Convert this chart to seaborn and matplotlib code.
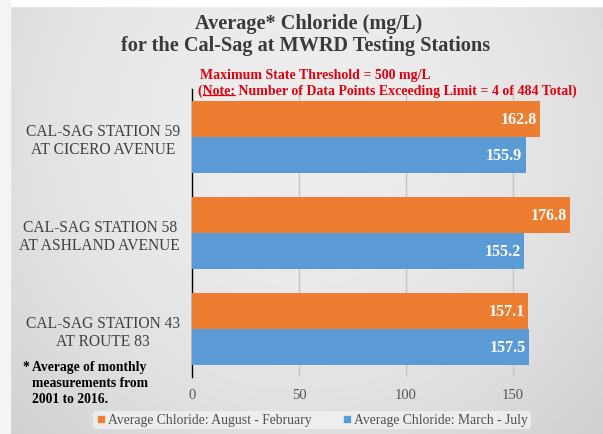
import numpy as np
import pandas as pd
import matplotlib
matplotlib.use("Agg")
import matplotlib.pyplot as plt
import seaborn as sns

# data
stations = ["CAL-SAG STATION 59\nAT CICERO AVENUE",
            "CAL-SAG STATION 58\nAT ASHLAND AVENUE",
            "CAL-SAG STATION 43\nAT ROUTE 83"]
series_names = ["Average Chloride: August - February",
                "Average Chloride: March - July"]
aug_feb = [162.8, 176.8, 157.1]
mar_jul = [155.9, 155.2, 157.5]
x_ticks = [0, 50, 100, 150]

df = pd.DataFrame({
    "station": stations * 2,
    "period": [series_names[0]] * 3 + [series_names[1]] * 3,
    "value": aug_feb + mar_jul,
})

sns.set_theme(style="white")
plt.rcParams["font.family"] = ["Liberation Serif", "DejaVu Serif"]

fig = plt.figure(figsize=(6.03, 4.35), dpi=100)

# gray slide background with soft gradient
bg = fig.add_axes([0, 0, 1, 1], zorder=-10)
xx = np.linspace(-1, 1, 300)
yy = np.linspace(-1, 1, 220)
X, Y = np.meshgrid(xx, yy)
shade = 0.93 - 0.06 * (X ** 2) - 0.03 * ((Y + 0.4) ** 2)
bg.imshow(shade, cmap="gray", vmin=0, vmax=1, aspect="auto",
          extent=[0, 1, 0, 1], interpolation="bilinear")
bg.axis("off")
fig.patches.append(plt.Rectangle((0, 0.985), 1, 0.015, transform=fig.transFigure,
                                 color="white", zorder=-5))
fig.patches.append(plt.Rectangle((0, 0), 0.016, 1, transform=fig.transFigure,
                                 color="#f4f4f4", zorder=-5))

ax = fig.add_axes([192 / 603, 1 - 378 / 435, (590 - 192) / 603, (378 - 90) / 435])
ax.set_facecolor("none")

colors = ["#ED7D31", "#5B9BD5"]
sns.barplot(data=df, y="station", x="value", hue="period", orient="h",
            palette=colors, width=0.75, ax=ax, legend=False, zorder=3,
            edgecolor="none", saturation=1)

ax.set_xlim(0, 186)
ax.set_xticks(x_ticks)
ax.grid(axis="x", color="#c4c4c4", linewidth=1, zorder=0)
ax.set_xlabel("")
ax.set_ylabel("")
for s in ["top", "right", "bottom"]:
    ax.spines[s].set_visible(False)
ax.spines["left"].set_color("black")
ax.spines["left"].set_linewidth(1)
ax.tick_params(axis="x", length=0, pad=8, labelsize=10.5, labelcolor="#555555")
ax.tick_params(axis="y", length=0, pad=8.5, labelsize=11.2, labelcolor="#404040")
for lab in ax.get_yticklabels():
    lab.set_multialignment("center")

for cont in ax.containers:
    labels = ax.bar_label(cont, fmt="%.1f", padding=-2.5, color="white",
                          fontweight="bold", fontsize=11.5)
    for l in labels:
        l.set_ha("right")

# titles
fig.text(309 / 603, 1 - 24 / 435, "Average* Chloride (mg/L)", ha="center", va="center",
         fontsize=14.6, fontweight="bold", color="#3a3a3a")
fig.text(306 / 603, 1 - 45.5 / 435, "for the Cal-Sag at MWRD Testing Stations", ha="center",
         va="center", fontsize=14.6, fontweight="bold", color="#3a3a3a")

red = "#e00010"
fig.text(200 / 603, 1 - 75 / 435, "Maximum State Threshold = 500 mg/L", ha="left",
         va="center", fontsize=10, fontweight="bold", color=red)
note_y = 1 - 91 / 435
t2 = fig.text(198 / 603, note_y,
              "(Note: Number of Data Points Exceeding Limit = 4 of 484 Total)",
              ha="left", va="center", fontsize=10, fontweight="bold", color=red)

# underline "Note:"
fig.canvas.draw()
r = fig.canvas.get_renderer()
tmp1 = fig.text(198 / 603, note_y, "(", fontsize=10, fontweight="bold")
tmp2 = fig.text(198 / 603, note_y, "(Note:", fontsize=10, fontweight="bold")
b1 = tmp1.get_window_extent(r)
b2 = tmp2.get_window_extent(r)
tb = t2.get_window_extent(r)
tmp1.remove()
tmp2.remove()
W, H = fig.bbox.width, fig.bbox.height
uy = (tb.y0 + 1.5) / H
fig.add_artist(plt.Line2D([b1.x1 / W, b2.x1 / W], [uy, uy], color=red, linewidth=0.9))

# footnote
fig.text(22 / 603, 1 - 368 / 435, "*", fontsize=9.8,
         fontweight="bold", color="black", va="center")
fig.text(32 / 603, 1 - 368 / 435, "Average of monthly", fontsize=9.8,
         fontweight="bold", color="black", va="center")
fig.text(32 / 603, 1 - 384 / 435, "measurements from", fontsize=9.8,
         fontweight="bold", color="black", va="center")
fig.text(32 / 603, 1 - 400 / 435, "2001 to 2016.", fontsize=9.8,
         fontweight="bold", color="black", va="center")

# legend
handles = [plt.Line2D([], [], marker="s", linestyle="", markersize=4.5,
                      color=c) for c in colors]
leg = fig.legend(handles, series_names, loc="center", bbox_to_anchor=(312 / 603, 1 - 421 / 435),
                 ncol=2, frameon=True, fontsize=9.8, handletextpad=0.1,
                 columnspacing=2.2, borderpad=0.2, handlelength=0.8)
leg.get_frame().set_facecolor("#f2f2f2")
leg.get_frame().set_edgecolor("none")
leg.get_frame().set_alpha(0.8)
for t in leg.get_texts():
    t.set_color("#505050")

fig.savefig("out.png", dpi=100)
